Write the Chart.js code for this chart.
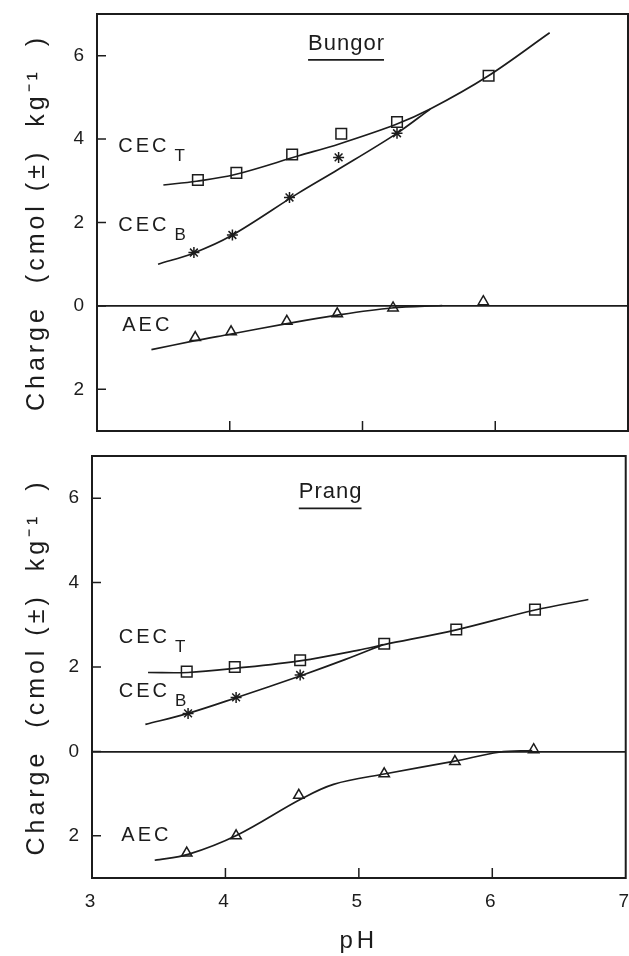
<!DOCTYPE html>
<html>
<head>
<meta charset="utf-8">
<script src="https://cdn.jsdelivr.net/npm/chart.js@4.4.1/dist/chart.umd.min.js"></script>
<style>
  html, body { margin: 0; background: #fff; overflow: hidden; width: 629px; height: 956px; }
  canvas { position: absolute; left: 0; }
  #bungor_chart { top: 0; }
  #prang_chart { top: 440px; }
</style>
</head>
<body>
<!-- canvases a bit wider than the page: Chart.js keeps room on the right for the last tick label -->
<canvas id="bungor_chart" width="637" height="440"></canvas>
<canvas id="prang_chart" width="643" height="516"></canvas>
<script>
// axes
const phTicks = [3, 4, 5, 6, 7];
const chargeTicks = [-2, 0, 2, 4, 6];

// Bungor - measured points
const bungorCecTPh = [3.76, 4.05, 4.47, 4.84, 5.26, 5.95];
const bungorCecT = [3.02, 3.19, 3.63, 4.13, 4.41, 5.52];
const bungorCecBPh = [3.73, 4.02, 4.45, 4.82, 5.26];
const bungorCecB = [1.28, 1.70, 2.60, 3.56, 4.14];
const bungorAecPh = [3.74, 4.01, 4.43, 4.81, 5.23, 5.91];
const bungorAec = [-0.76, -0.62, -0.37, -0.19, -0.05, 0.10];
// Bungor - fitted curves
const bungorCecTCurvePh = [3.50, 3.75, 4.04, 4.52, 4.83, 5.25, 5.51, 5.94, 6.41];
const bungorCecTCurve = [2.90, 2.99, 3.15, 3.60, 3.89, 4.35, 4.72, 5.50, 6.55];
const bungorCecBCurvePh = [3.46, 3.73, 4.01, 4.52, 4.81, 5.25, 5.51];
const bungorCecBCurve = [1.00, 1.27, 1.68, 2.71, 3.26, 4.12, 4.72];
const bungorAecCurvePh = [3.41, 3.73, 4.00, 4.42, 4.81, 5.22, 5.60];
const bungorAecCurve = [-1.05, -0.84, -0.68, -0.43, -0.22, -0.05, 0.01];

// Prang - measured points
const prangCecTPh = [3.71, 4.07, 4.56, 5.19, 5.73, 6.32];
const prangCecT = [1.89, 2.00, 2.16, 2.55, 2.89, 3.36];
const prangCecBPh = [3.72, 4.08, 4.56];
const prangCecB = [0.90, 1.28, 1.81];
const prangAecPh = [3.71, 4.08, 4.55, 5.19, 5.72, 6.31];
const prangAec = [-2.41, -2.00, -1.04, -0.53, -0.24, 0.04];
// Prang - fitted curves
const prangCecTCurvePh = [3.42, 3.72, 4.08, 4.57, 5.00, 5.19, 5.73, 6.32, 6.72];
const prangCecTCurve = [1.87, 1.87, 1.97, 2.15, 2.40, 2.53, 2.88, 3.35, 3.60];
const prangCecBCurvePh = [3.40, 3.72, 4.08, 4.57, 4.90, 5.18];
const prangCecBCurve = [0.64, 0.90, 1.27, 1.80, 2.18, 2.53];
const prangAecCurvePh = [3.47, 3.72, 4.09, 4.56, 4.81, 5.20, 5.72, 6.05, 6.30];
const prangAecCurve = [-2.58, -2.44, -1.98, -1.14, -0.78, -0.53, -0.23, -0.02, 0.02];

const ink = '#1c1c1c';
const family = "'Liberation Sans', Arial, sans-serif";
Chart.defaults.font.family = family;
Chart.defaults.color = ink;

function pts(xs, ys) {
    return xs.map((x, i) => ({ x: x, y: ys[i] }));
}

function curve(xs, ys) {
    return {
        data: pts(xs, ys),
        showLine: true,
        borderColor: ink,
        borderWidth: 1.7,
        pointRadius: 0,
        tension: 0.35
    };
}

function marks(xs, ys, style, r) {
    return {
        data: pts(xs, ys),
        showLine: false,
        pointStyle: style,
        pointRadius: r,
        pointBorderColor: ink,
        pointBackgroundColor: 'rgba(255,255,255,0)',
        pointBorderWidth: 1.5
    };
}

// letter spacing for axis texts, reset before the data is drawn
const spacingPlugin = {
    id: 'spacing',
    beforeDraw(chart) { chart.ctx.letterSpacing = '4px'; },
    beforeDatasetsDraw(chart) { chart.ctx.letterSpacing = '0px'; }
};

// box round the plot and inward tick marks
const framePlugin = {
    id: 'frame',
    afterDraw(chart) {
        const { ctx, chartArea: a, scales: { x, y } } = chart;
        ctx.save();
        ctx.strokeStyle = ink;
        ctx.lineWidth = 2;
        ctx.strokeRect(a.left, a.top, a.right - a.left, a.bottom - a.top);
        ctx.lineWidth = 1.5;
        ctx.beginPath();
        y.ticks.forEach(t => {
            const py = y.getPixelForValue(t.value);
            ctx.moveTo(a.left, py);
            ctx.lineTo(a.left + 9, py);
        });
        x.ticks.forEach(t => {
            if (t.value <= x.min || t.value >= x.max) return;
            const px = x.getPixelForValue(t.value);
            ctx.moveTo(px, a.bottom);
            ctx.lineTo(px, a.bottom - 10);
        });
        ctx.stroke();
        ctx.restore();
    }
};

// curve names and panel title
const notesPlugin = {
    id: 'notes',
    afterDraw(chart, args, opts) {
        const { ctx, scales: { x, y } } = chart;
        ctx.save();
        ctx.fillStyle = ink;
        ctx.strokeStyle = ink;
        ctx.textBaseline = 'middle';
        ctx.textAlign = 'left';
        (opts.items || []).forEach(n => {
            ctx.font = n.size + 'px ' + family;
            ctx.letterSpacing = n.spacing + 'px';
            const px = x.getPixelForValue(n.x);
            const py = y.getPixelForValue(n.y);
            ctx.fillText(n.text, px, py);
            const w = ctx.measureText(n.text).width;
            if (n.sub) {
                ctx.font = '17px ' + family;
                ctx.fillText(n.sub, px + w + 5, py + 10);
            }
            if (n.underline) {
                const uy = y.getPixelForValue(n.underline);
                ctx.lineWidth = 1.8;
                ctx.beginPath();
                ctx.moveTo(px, uy);
                ctx.lineTo(px + w - n.spacing, uy);
                ctx.stroke();
            }
        });
        ctx.restore();
    }
};

function makeScales(showXLabels, yWidth, xHeight) {
    return {
        x: {
            type: 'linear',
            min: 3,
            max: 7,
            afterBuildTicks: s => { s.ticks = phTicks.map(v => ({ value: v })); },
            afterFit: s => { s.height = xHeight; },
            grid: { display: false, drawTicks: false },
            border: { display: true, color: ink, width: 2 },
            ticks: { display: showXLabels, padding: 12, font: { size: 19 }, color: ink },
            title: { display: showXLabels, text: 'pH', font: { size: 24 }, color: ink, padding: { top: 0, bottom: 0 } }
        },
        y: {
            type: 'linear',
            min: -3,
            max: 7,
            afterBuildTicks: s => { s.ticks = chargeTicks.map(v => ({ value: v })); },
            afterFit: s => {
                s.width = yWidth;
                s.paddingTop = 0;
                s.paddingBottom = 0;
            },
            grid: {
                drawTicks: false,
                lineWidth: 1.7,
                color: c => (c.tick && c.tick.value === 0) ? ink : 'rgba(0,0,0,0)'
            },
            border: { display: true, color: ink, width: 2 },
            ticks: { padding: 9, font: { size: 19 }, color: ink, callback: v => String(Math.abs(v)) },
            title: {
                display: true,
                text: 'Charge  (cmol (±)  kg⁻¹  )',
                font: { size: 25 },
                color: ink,
                padding: { top: 22, bottom: 0 }
            }
        }
    };
}

function createChart(canvas, sets, notes, showXLabels, yWidth, xHeight, pad) {
    new Chart(canvas, {
        type: 'scatter',
        data: { datasets: sets },
        options: {
            responsive: false,
            animation: false,
            events: [],
            layout: { padding: pad },
            scales: makeScales(showXLabels, yWidth, xHeight),
            plugins: {
                legend: { display: false },
                tooltip: { enabled: false },
                notes: { items: notes }
            }
        },
        plugins: [spacingPlugin, framePlugin, notesPlugin]
    });
}

createChart(
    document.getElementById('bungor_chart'),
    [
        curve(bungorCecTCurvePh, bungorCecTCurve),
        curve(bungorCecBCurvePh, bungorCecBCurve),
        curve(bungorAecCurvePh, bungorAecCurve),
        marks(bungorCecTPh, bungorCecT, 'rect', 7.5),
        marks(bungorCecBPh, bungorCecB, 'star', 5.5),
        marks(bungorAecPh, bungorAec, 'triangle', 6)
    ],
    [
        { text: 'Bungor', x: 4.59, y: 6.29, size: 22, spacing: 1, underline: 5.9 },
        { text: 'CEC', sub: 'T', x: 3.16, y: 3.83, size: 20, spacing: 3 },
        { text: 'CEC', sub: 'B', x: 3.16, y: 1.94, size: 20, spacing: 3 },
        { text: 'AEC', x: 3.19, y: -0.48, size: 20, spacing: 3 }
    ],
    false, 97, 9, { left: 0, right: 0, top: 14, bottom: 0 }
);

createChart(
    document.getElementById('prang_chart'),
    [
        curve(prangCecTCurvePh, prangCecTCurve),
        curve(prangCecBCurvePh, prangCecBCurve),
        curve(prangAecCurvePh, prangAecCurve),
        marks(prangCecTPh, prangCecT, 'rect', 7.5),
        marks(prangCecBPh, prangCecB, 'star', 5.5),
        marks(prangAecPh, prangAec, 'triangle', 6)
    ],
    [
        { text: 'Prang', x: 4.55, y: 6.16, size: 22, spacing: 1, underline: 5.76 },
        { text: 'CEC', sub: 'T', x: 3.20, y: 2.71, size: 20, spacing: 3 },
        { text: 'CEC', sub: 'B', x: 3.20, y: 1.43, size: 20, spacing: 3 },
        { text: 'AEC', x: 3.22, y: -2.0, size: 20, spacing: 3 }
    ],
    true, 92, 78, { left: 0, right: 0, top: 16, bottom: 0 }
);
</script>
</body>
</html>
